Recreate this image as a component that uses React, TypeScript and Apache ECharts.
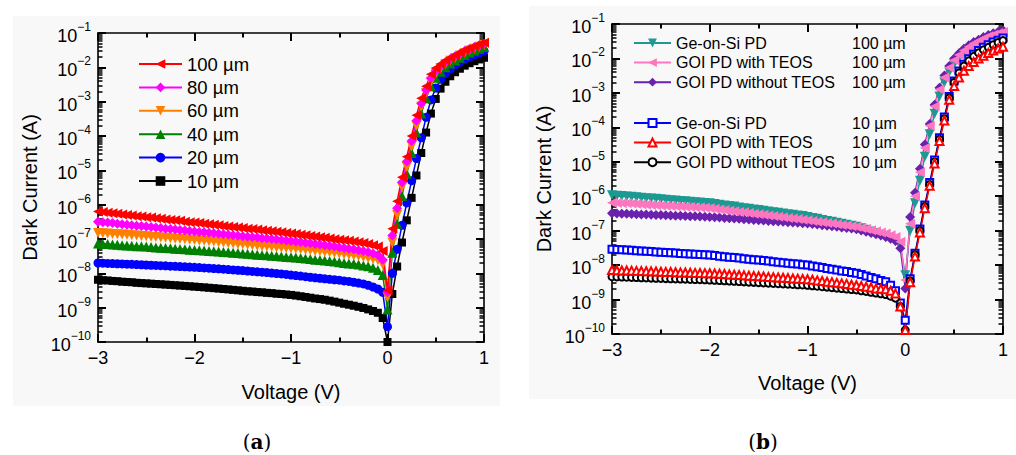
import React, { useEffect, useRef } from "react";
import * as echarts from "echarts";

const FONT = '"Liberation Sans", Arial, Helvetica, sans-serif';

// Voltage sweep (V)
const voltage = [
  -3, -2.95, -2.9, -2.85, -2.8, -2.75, -2.7, -2.65, -2.6, -2.55, -2.5, -2.45, -2.4, -2.35, -2.3, -2.25, -2.2, -2.15, -2.1, -2.05,
  -2, -1.95, -1.9, -1.85, -1.8, -1.75, -1.7, -1.65, -1.6, -1.55, -1.5, -1.45, -1.4, -1.35, -1.3, -1.25, -1.2, -1.15, -1.1, -1.05,
  -1, -0.95, -0.9, -0.85, -0.8, -0.75, -0.7, -0.65, -0.6, -0.55, -0.5, -0.45, -0.4, -0.35, -0.3, -0.25, -0.2, -0.15, -0.1, -0.05,
  0, 0.05, 0.1, 0.15, 0.2, 0.25, 0.3, 0.35, 0.4, 0.45, 0.5, 0.55, 0.6, 0.65, 0.7, 0.75, 0.8, 0.85, 0.9, 0.95, 1,
];

// Panel (a): dark current (A) for different diameters
const a100um = [
  6.3e-7, 6.1e-7, 5.8e-7, 5.6e-7, 5.4e-7, 5.2e-7, 5.0e-7, 4.8e-7, 4.6e-7, 4.5e-7, 4.3e-7, 4.2e-7, 4.0e-7, 3.9e-7, 3.7e-7, 3.6e-7, 3.5e-7, 3.4e-7, 3.2e-7, 3.1e-7, 3.0e-7,
  2.9e-7, 2.8e-7, 2.7e-7, 2.6e-7, 2.5e-7, 2.4e-7, 2.3e-7, 2.25e-7, 2.15e-7, 2.1e-7, 2.0e-7, 1.95e-7, 1.88e-7, 1.8e-7, 1.74e-7, 1.68e-7, 1.62e-7, 1.56e-7, 1.5e-7, 1.45e-7,
  1.39e-7, 1.33e-7, 1.28e-7, 1.23e-7, 1.18e-7, 1.13e-7, 1.08e-7, 1.04e-7, 9.9e-8, 9.5e-8,
  9.2e-8, 8.9e-8, 8.5e-8, 8.1e-8, 7.6e-8, 7.1e-8,
  6.6e-8, 6.0e-8, 4.5e-8, 3.2e-9,
  2.0e-7, 1.26e-6, 6.3e-6, 2.5e-5, 1.0e-4, 4.0e-4, 1.26e-3, 2.8e-3, 6.3e-3, 9.5e-3, 1.26e-2, 1.58e-2, 1.9e-2, 2.3e-2, 2.7e-2, 3.2e-2, 3.6e-2, 4.2e-2, 4.7e-2, 5.2e-2,
];
const a80um = [
  3.2e-7, 3.1e-7, 3.0e-7, 2.9e-7, 2.8e-7, 2.7e-7, 2.6e-7, 2.5e-7, 2.45e-7, 2.4e-7, 2.3e-7, 2.25e-7, 2.15e-7, 2.1e-7, 2.0e-7, 1.95e-7, 1.9e-7, 1.84e-7, 1.78e-7, 1.72e-7, 1.66e-7,
  1.61e-7, 1.56e-7, 1.51e-7, 1.46e-7, 1.42e-7, 1.37e-7, 1.33e-7, 1.29e-7, 1.25e-7, 1.21e-7, 1.17e-7, 1.13e-7, 1.1e-7, 1.06e-7, 1.03e-7, 1.0e-7, 9.7e-8, 9.4e-8, 9.1e-8, 8.8e-8,
  8.5e-8, 8.2e-8, 7.8e-8, 7.5e-8, 7.2e-8, 6.9e-8, 6.6e-8, 6.3e-8, 6.0e-8, 5.7e-8,
  5.5e-8, 5.2e-8, 5.0e-8, 4.7e-8, 4.5e-8, 4.2e-8,
  3.8e-8, 3.4e-8, 2.5e-8, 2.8e-9,
  1.26e-7, 7.9e-7, 4.5e-6, 1.8e-5, 7.1e-5, 2.8e-4, 8.9e-4, 2.2e-3, 4.8e-3, 7.9e-3, 1.1e-2, 1.4e-2, 1.74e-2, 2.1e-2, 2.5e-2, 3.0e-2, 3.4e-2, 3.9e-2, 4.4e-2, 4.9e-2,
];
const a60um = [
  1.5e-7, 1.47e-7, 1.44e-7, 1.41e-7, 1.38e-7, 1.35e-7, 1.32e-7, 1.29e-7, 1.26e-7, 1.23e-7, 1.2e-7, 1.17e-7, 1.14e-7, 1.11e-7, 1.08e-7, 1.05e-7, 1.02e-7, 1.0e-7, 9.8e-8, 9.5e-8, 9.3e-8,
  9.1e-8, 8.9e-8, 8.6e-8, 8.4e-8, 8.1e-8, 7.9e-8, 7.6e-8, 7.4e-8, 7.2e-8, 7.0e-8, 6.8e-8, 6.6e-8, 6.4e-8, 6.2e-8, 6.0e-8, 5.9e-8, 5.7e-8, 5.6e-8, 5.5e-8, 5.4e-8,
  5.2e-8, 5.0e-8, 4.9e-8, 4.7e-8, 4.5e-8, 4.4e-8, 4.2e-8, 4.1e-8, 3.9e-8, 3.8e-8,
  3.6e-8, 3.5e-8, 3.3e-8, 3.2e-8, 3.0e-8, 2.8e-8,
  2.6e-8, 2.4e-8, 1.8e-8, 2.0e-9,
  7.9e-8, 5.0e-7, 3.2e-6, 1.26e-5, 5.0e-5, 2.0e-4, 7.1e-4, 1.8e-3, 3.8e-3, 6.6e-3, 9.3e-3, 1.23e-2, 1.55e-2, 1.86e-2, 2.2e-2, 2.6e-2, 3.1e-2, 3.5e-2, 4.0e-2, 4.5e-2,
];
const a40um = [
  7.4e-8, 7.2e-8, 7.1e-8, 6.9e-8, 6.8e-8, 6.6e-8, 6.5e-8, 6.4e-8, 6.2e-8, 6.1e-8, 6.0e-8, 5.8e-8, 5.7e-8, 5.6e-8, 5.5e-8, 5.4e-8, 5.2e-8, 5.1e-8, 5.0e-8, 4.9e-8, 4.8e-8,
  4.7e-8, 4.6e-8, 4.5e-8, 4.4e-8, 4.3e-8, 4.2e-8, 4.1e-8, 4.0e-8, 3.9e-8, 3.8e-8, 3.7e-8, 3.6e-8, 3.5e-8, 3.4e-8, 3.35e-8, 3.25e-8, 3.2e-8, 3.1e-8, 3.0e-8, 2.95e-8,
  2.9e-8, 2.8e-8, 2.7e-8, 2.6e-8, 2.5e-8, 2.45e-8, 2.35e-8, 2.3e-8, 2.2e-8, 2.1e-8,
  2.0e-8, 1.95e-8, 1.9e-8, 1.8e-8, 1.7e-8, 1.6e-8,
  1.45e-8, 1.26e-8, 8.9e-9, 8.9e-10,
  4.0e-8, 2.8e-7, 1.8e-6, 7.9e-6, 3.2e-5, 1.26e-4, 4.5e-4, 1.26e-3, 2.8e-3, 5.0e-3, 7.4e-3, 1.0e-2, 1.29e-2, 1.58e-2, 1.9e-2, 2.3e-2, 2.7e-2, 3.1e-2, 3.5e-2, 3.9e-2,
];
const a20um = [
  2.0e-8, 1.98e-8, 1.95e-8, 1.93e-8, 1.9e-8, 1.88e-8, 1.85e-8, 1.83e-8, 1.8e-8, 1.78e-8, 1.75e-8, 1.72e-8, 1.7e-8, 1.67e-8, 1.65e-8, 1.62e-8, 1.6e-8, 1.57e-8, 1.55e-8, 1.52e-8, 1.5e-8,
  1.47e-8, 1.44e-8, 1.41e-8, 1.38e-8, 1.35e-8, 1.32e-8, 1.29e-8, 1.26e-8, 1.23e-8, 1.2e-8, 1.17e-8, 1.14e-8, 1.11e-8, 1.08e-8, 1.05e-8, 1.02e-8, 9.9e-9, 9.6e-9, 9.3e-9, 8.9e-9,
  8.6e-9, 8.3e-9, 8.0e-9, 7.7e-9, 7.4e-9, 7.2e-9, 6.9e-9, 6.7e-9, 6.5e-9, 6.3e-9,
  6.0e-9, 5.8e-9, 5.5e-9, 5.2e-9, 4.9e-9, 4.5e-9,
  4.0e-9, 3.5e-9, 2.8e-9, 2.8e-10,
  1.0e-8, 5.0e-8, 2.5e-7, 1.12e-6, 5.0e-6, 2.2e-5, 8.9e-5, 3.5e-4, 1.12e-3, 2.5e-3, 4.5e-3, 6.6e-3, 8.9e-3, 1.15e-2, 1.41e-2, 1.7e-2, 2.0e-2, 2.3e-2, 2.6e-2, 3.0e-2,
];
const a10um = [
  6.5e-9, 6.3e-9, 6.2e-9, 6.0e-9, 5.9e-9, 5.7e-9, 5.6e-9, 5.5e-9, 5.3e-9, 5.2e-9, 5.1e-9, 5.0e-9, 4.9e-9, 4.8e-9, 4.7e-9, 4.6e-9, 4.5e-9, 4.4e-9, 4.3e-9, 4.2e-9, 4.1e-9,
  4.0e-9, 3.9e-9, 3.8e-9, 3.7e-9, 3.6e-9, 3.5e-9, 3.4e-9, 3.3e-9, 3.2e-9, 3.1e-9, 3.0e-9, 2.95e-9, 2.85e-9, 2.8e-9, 2.7e-9, 2.65e-9, 2.55e-9, 2.5e-9, 2.42e-9, 2.35e-9,
  2.25e-9, 2.15e-9, 2.05e-9, 1.95e-9, 1.85e-9, 1.78e-9, 1.7e-9, 1.6e-9, 1.5e-9, 1.4e-9,
  1.3e-9, 1.22e-9, 1.14e-9, 1.06e-9, 9.8e-10, 8.9e-10,
  8.0e-10, 7.1e-10, 5.0e-10, 1.0e-10,
  2.5e-9, 1.58e-8, 7.9e-8, 3.5e-7, 1.58e-6, 7.1e-6, 3.2e-5, 1.26e-4, 4.5e-4, 1.2e-3, 2.4e-3, 3.8e-3, 5.5e-3, 7.2e-3, 9.1e-3, 1.12e-2, 1.32e-2, 1.51e-2, 1.7e-2, 1.9e-2,
];

// Panel (b): dark current (A) of the three device types
const bGeOnSi100 = [
  1.07e-6, 1.04e-6, 1.01e-6, 9.8e-7, 9.6e-7, 9.3e-7, 9.1e-7, 8.8e-7, 8.6e-7, 8.4e-7, 8.1e-7, 7.9e-7, 7.7e-7, 7.5e-7, 7.3e-7, 7.1e-7, 6.9e-7, 6.7e-7, 6.6e-7, 6.4e-7, 6.2e-7,
  5.9e-7, 5.7e-7, 5.4e-7, 5.2e-7, 5.0e-7, 4.7e-7, 4.5e-7, 4.3e-7, 4.1e-7, 4.0e-7, 3.8e-7, 3.6e-7, 3.45e-7, 3.3e-7, 3.15e-7, 3.0e-7, 2.9e-7, 2.75e-7, 2.65e-7, 2.5e-7,
  2.35e-7, 2.2e-7, 2.05e-7, 1.92e-7, 1.8e-7, 1.69e-7, 1.58e-7, 1.48e-7, 1.38e-7, 1.29e-7,
  1.18e-7, 1.06e-7, 9.5e-8, 8.5e-8, 7.6e-8, 6.6e-8,
  5.8e-8, 5.0e-8, 3.8e-8, 5.1e-9,
  1.0e-7, 6.3e-7, 2.8e-6, 1.41e-5, 6.3e-5, 2.5e-4, 7.9e-4, 2.0e-3, 4.0e-3, 6.8e-3, 1.0e-2, 1.38e-2, 1.78e-2, 2.2e-2, 2.7e-2, 3.2e-2, 3.6e-2, 4.1e-2, 4.5e-2, 4.9e-2,
];
const bTeos100 = [
  6.5e-7, 6.4e-7, 6.3e-7, 6.2e-7, 6.1e-7, 5.9e-7, 5.8e-7, 5.7e-7, 5.6e-7, 5.5e-7, 5.4e-7, 5.3e-7, 5.2e-7, 5.1e-7, 5.0e-7, 4.95e-7, 4.85e-7, 4.75e-7, 4.7e-7, 4.6e-7, 4.5e-7,
  4.3e-7, 4.15e-7, 4.0e-7, 3.8e-7, 3.65e-7, 3.5e-7, 3.4e-7, 3.25e-7, 3.1e-7, 3.0e-7, 2.9e-7, 2.75e-7, 2.65e-7, 2.55e-7, 2.45e-7, 2.35e-7, 2.25e-7, 2.17e-7, 2.08e-7, 2.0e-7,
  1.91e-7, 1.83e-7, 1.75e-7, 1.68e-7, 1.61e-7, 1.54e-7, 1.47e-7, 1.41e-7, 1.35e-7, 1.29e-7,
  1.2e-7, 1.11e-7, 1.03e-7, 9.6e-8, 8.9e-8, 8.3e-8,
  7.4e-8, 6.6e-8, 4.8e-8, 3.7e-9,
  1.6e-7, 1.0e-6, 5.0e-6, 2.5e-5, 1.12e-4, 4.0e-4, 1.26e-3, 2.8e-3, 5.4e-3, 8.9e-3, 1.26e-2, 1.7e-2, 2.2e-2, 2.7e-2, 3.2e-2, 3.8e-2, 4.4e-2, 4.9e-2, 5.4e-2, 5.9e-2,
];
const bNoTeos100 = [
  3.2e-7, 3.16e-7, 3.12e-7, 3.08e-7, 3.05e-7, 3.01e-7, 2.97e-7, 2.94e-7, 2.9e-7, 2.86e-7, 2.83e-7, 2.8e-7, 2.76e-7, 2.73e-7, 2.69e-7, 2.66e-7, 2.63e-7, 2.6e-7, 2.56e-7, 2.53e-7, 2.5e-7,
  2.45e-7, 2.4e-7, 2.35e-7, 2.3e-7, 2.25e-7, 2.2e-7, 2.15e-7, 2.1e-7, 2.05e-7, 2.0e-7, 1.96e-7, 1.92e-7, 1.88e-7, 1.84e-7, 1.8e-7, 1.76e-7, 1.72e-7, 1.69e-7, 1.65e-7, 1.62e-7,
  1.56e-7, 1.5e-7, 1.44e-7, 1.39e-7, 1.34e-7, 1.29e-7, 1.24e-7, 1.19e-7, 1.15e-7, 1.1e-7,
  1.01e-7, 9.3e-8, 8.6e-8, 7.9e-8, 7.2e-8, 6.6e-8,
  5.8e-8, 5.0e-8, 3.1e-8, 2.1e-9,
  2.5e-7, 1.26e-6, 6.3e-6, 3.2e-5, 1.26e-4, 4.5e-4, 1.41e-3, 3.2e-3, 6.0e-3, 1.0e-2, 1.41e-2, 1.9e-2, 2.4e-2, 3.0e-2, 3.5e-2, 4.2e-2, 4.8e-2, 5.4e-2, 6.0e-2, 6.6e-2,
];
const bGeOnSi10 = [
  2.9e-8, 2.84e-8, 2.79e-8, 2.73e-8, 2.68e-8, 2.63e-8, 2.57e-8, 2.52e-8, 2.47e-8, 2.42e-8, 2.38e-8, 2.33e-8, 2.28e-8, 2.24e-8, 2.19e-8, 2.15e-8, 2.11e-8, 2.07e-8, 2.03e-8, 1.99e-8, 1.95e-8,
  1.89e-8, 1.82e-8, 1.76e-8, 1.7e-8, 1.65e-8, 1.6e-8, 1.54e-8, 1.49e-8, 1.44e-8, 1.4e-8, 1.35e-8, 1.31e-8, 1.26e-8, 1.22e-8, 1.18e-8, 1.14e-8, 1.1e-8, 1.07e-8, 1.03e-8, 1.0e-8,
  9.5e-9, 9.0e-9, 8.5e-9, 8.0e-9, 7.6e-9, 7.2e-9, 6.8e-9, 6.5e-9, 6.1e-9, 5.8e-9,
  5.3e-9, 4.8e-9, 4.4e-9, 4.0e-9, 3.6e-9, 3.3e-9,
  2.6e-9, 1.8e-9, 8.0e-10, 2.5e-10,
  4.0e-9, 2.2e-8, 1.12e-7, 5.6e-7, 2.5e-6, 1.12e-5, 5.0e-5, 2.0e-4, 7.9e-4, 2.2e-3, 4.3e-3, 6.8e-3, 9.8e-3, 1.32e-2, 1.7e-2, 2.1e-2, 2.5e-2, 3.0e-2, 3.4e-2, 3.9e-2,
];
const bTeos10 = [
  7.2e-9, 7.1e-9, 7.0e-9, 6.95e-9, 6.9e-9, 6.8e-9, 6.7e-9, 6.65e-9, 6.6e-9, 6.5e-9, 6.4e-9, 6.35e-9, 6.3e-9, 6.2e-9, 6.15e-9, 6.1e-9, 6.0e-9, 5.95e-9, 5.9e-9, 5.85e-9, 5.8e-9,
  5.7e-9, 5.6e-9, 5.5e-9, 5.35e-9, 5.25e-9, 5.15e-9, 5.05e-9, 4.95e-9, 4.85e-9, 4.75e-9, 4.65e-9, 4.55e-9, 4.45e-9, 4.4e-9, 4.3e-9, 4.2e-9, 4.1e-9, 4.05e-9, 3.95e-9, 3.9e-9,
  3.75e-9, 3.6e-9, 3.45e-9, 3.3e-9, 3.2e-9, 3.05e-9, 2.95e-9, 2.85e-9, 2.7e-9, 2.6e-9,
  2.47e-9, 2.35e-9, 2.23e-9, 2.11e-9, 2.05e-9, 2.0e-9,
  1.8e-9, 1.5e-9, 6.3e-10, 1.3e-10,
  3.2e-9, 1.78e-8, 8.9e-8, 4.5e-7, 2.0e-6, 8.9e-6, 4.0e-5, 1.58e-4, 6.3e-4, 1.58e-3, 2.8e-3, 4.4e-3, 6.0e-3, 7.9e-3, 1.0e-2, 1.2e-2, 1.45e-2, 1.7e-2, 1.95e-2, 2.2e-2,
];
const bNoTeos10 = [
  4.6e-9, 4.55e-9, 4.5e-9, 4.45e-9, 4.4e-9, 4.35e-9, 4.3e-9, 4.25e-9, 4.2e-9, 4.15e-9, 4.1e-9, 4.06e-9, 4.02e-9, 3.98e-9, 3.94e-9, 3.9e-9, 3.86e-9, 3.82e-9, 3.78e-9, 3.74e-9, 3.7e-9,
  3.64e-9, 3.57e-9, 3.51e-9, 3.45e-9, 3.39e-9, 3.33e-9, 3.27e-9, 3.21e-9, 3.16e-9, 3.1e-9, 3.05e-9, 3.0e-9, 2.94e-9, 2.89e-9, 2.84e-9, 2.79e-9, 2.74e-9, 2.69e-9, 2.65e-9, 2.6e-9,
  2.52e-9, 2.44e-9, 2.36e-9, 2.29e-9, 2.22e-9, 2.15e-9, 2.09e-9, 2.02e-9, 1.96e-9, 1.9e-9,
  1.8e-9, 1.72e-9, 1.63e-9, 1.55e-9, 1.47e-9, 1.4e-9,
  1.25e-9, 1.1e-9, 6.3e-10, 1.3e-10,
  3.5e-9, 2.0e-8, 1.0e-7, 5.0e-7, 2.2e-6, 1.0e-5, 4.5e-5, 1.78e-4, 7.1e-4, 2.0e-3, 3.8e-3, 6.0e-3, 8.5e-3, 1.15e-2, 1.45e-2, 1.78e-2, 2.1e-2, 2.5e-2, 2.9e-2, 3.3e-2,
];

// Axis ticks
const xTicks = [-3, -2, -1, 0, 1];
const yMajorTicks = [1e-10, 1e-9, 1e-8, 1e-7, 1e-6, 1e-5, 1e-4, 1e-3, 1e-2, 1e-1];
const yMinorMultipliers = [2, 3, 4, 5, 6, 7, 8, 9];
const yMinorTicks: number[] = [];
yMajorTicks.slice(0, -1).forEach((d) => yMinorMultipliers.forEach((m) => yMinorTicks.push(m * d)));

const legendA = ["100 µm", "80 µm", "60 µm", "40 µm", "20 µm", "10 µm"];
const legendB1 = ["Ge-on-Si PD, 100 µm", "GOI PD with TEOS, 100 µm", "GOI PD without TEOS, 100 µm"];
const legendB2 = ["Ge-on-Si PD, 10 µm", "GOI PD with TEOS, 10 µm", "GOI PD without TEOS, 10 µm"];

const BLACK = "#000000";
const MAJOR_LEN = 8;
const MINOR_LEN = 4.5;

const minus = (s: string) => s.replace("-", "\u2212");

function xAxis(grid: number, position: "bottom" | "top", main: boolean, nameGap: number) {
  return {
    gridIndex: grid,
    type: "value",
    position,
    min: xTicks[0],
    max: xTicks[xTicks.length - 1],
    interval: 1,
    axisLine: { show: true, onZero: false, lineStyle: { color: BLACK, width: 1.6 } },
    axisTick: { show: true, inside: true, length: MAJOR_LEN, lineStyle: { color: BLACK, width: 2 } },
    minorTick: { show: true, splitNumber: 2, length: MINOR_LEN, lineStyle: { color: BLACK, width: 2 } },
    splitLine: { show: false },
    axisLabel: {
      show: main,
      color: BLACK,
      fontSize: 18,
      fontFamily: FONT,
      margin: 7,
      formatter: (v: number) => minus(String(v)),
    },
    name: main ? "Voltage (V)" : "",
    nameLocation: "middle",
    nameGap,
    nameTextStyle: { color: BLACK, fontSize: 20, fontFamily: FONT },
  };
}

function yAxis(grid: number, position: "left" | "right", kind: "major" | "minor", labels: boolean) {
  const isMajor = kind === "major";
  return {
    gridIndex: grid,
    type: "log",
    position,
    min: yMajorTicks[0],
    max: yMajorTicks[yMajorTicks.length - 1],
    splitNumber: 9,
    axisLine: { show: isMajor, onZero: false, lineStyle: { color: BLACK, width: 1.6 } },
    axisTick: {
      show: true,
      inside: true,
      length: isMajor ? MAJOR_LEN : MINOR_LEN,
      lineStyle: { color: BLACK, width: isMajor ? 2 : 1.5 },
      customValues: isMajor ? yMajorTicks : yMinorTicks,
    },
    splitLine: { show: false },
    axisLabel: labels
      ? {
          show: true,
          customValues: yMajorTicks,
          margin: 7,
          color: BLACK,
          fontFamily: FONT,
          formatter: (v: number) => `{b|10}{s|${minus(String(Math.round(Math.log10(v))))}}`,
          rich: {
            b: { fontSize: 18, fontFamily: FONT, color: BLACK, verticalAlign: "bottom", lineHeight: 24 },
            s: { fontSize: 12, fontFamily: FONT, color: BLACK, verticalAlign: "top" },
          },
        }
      : { show: false },
    name: labels ? "Dark Current (A)" : "",
    nameLocation: "middle",
    nameGap: 58,
    nameTextStyle: { color: BLACK, fontSize: 20, fontFamily: FONT },
  };
}

function line(
  name: string,
  data: number[],
  color: string,
  symbol: string,
  rotate: number,
  size: number,
  grid: number,
  empty = false,
) {
  return {
    type: "line",
    name,
    xAxisIndex: grid * 2,
    yAxisIndex: grid * 4,
    data: voltage.map((v, i) => [v, data[i]]),
    symbol,
    symbolRotate: rotate,
    symbolSize: size,
    showSymbol: true,
    showAllSymbol: true,
    lineStyle: { color, width: 1.5 },
    itemStyle: empty ? { color, borderColor: color, borderWidth: 1.5 } : { color, borderWidth: 0 },
    emphasis: { disabled: true },
    clip: true,
  };
}

const TEAL = "#1c9a92";
const PINK = "#ff76c0";
const PURPLE = "#6a22ae";

export default function App() {
  const ref = useRef<HTMLDivElement>(null);

  useEffect(() => {
    if (!ref.current) return;
    const chart = echarts.init(ref.current, undefined, { renderer: "svg" });

    const legendRichB = {
      n: { width: 176, fontSize: 16, fontFamily: FONT, color: BLACK },
      d: { fontSize: 16, fontFamily: FONT, color: BLACK },
    };
    const legendFmtB = (name: string) => {
      const [a, b] = name.split(", ");
      return `{n|${a}}{d|${b}}`;
    };
    const serif = '"DejaVu Serif", "Liberation Serif", serif';

    const option = {
      animation: false,
      textStyle: { fontFamily: FONT },
      graphic: [
        { type: "rect", z: -10, silent: true, shape: { x: 13, y: 16, width: 487, height: 390 }, style: { fill: "#f8f8f8" } },
        { type: "rect", z: -10, silent: true, shape: { x: 529, y: 6, width: 487, height: 393 }, style: { fill: "#f8f8f8" } },
        {
          type: "text",
          x: 257,
          y: 442,
          style: {
            text: "{p|(}{l|a}{p|)}",
            align: "center",
            verticalAlign: "middle",
            rich: {
              p: { fontSize: 20, fontFamily: serif, fill: BLACK },
              l: { fontSize: 20, fontWeight: "bold", fontFamily: serif, fill: BLACK },
            },
          },
        },
        {
          type: "text",
          x: 763,
          y: 442,
          style: {
            text: "{p|(}{l|b}{p|)}",
            align: "center",
            verticalAlign: "middle",
            rich: {
              p: { fontSize: 20, fontFamily: serif, fill: BLACK },
              l: { fontSize: 20, fontWeight: "bold", fontFamily: serif, fill: BLACK },
            },
          },
        },
      ],
      grid: [
        { left: 98, top: 33, width: 386, height: 309, outerBoundsMode: "none", containLabel: false },
        { left: 612, top: 24, width: 391, height: 310, outerBoundsMode: "none", containLabel: false },
      ],
      xAxis: [
        xAxis(0, "bottom", true, 40),
        xAxis(0, "top", false, 0),
        xAxis(1, "bottom", true, 39),
        xAxis(1, "top", false, 0),
      ],
      yAxis: [
        yAxis(0, "left", "major", true),
        yAxis(0, "right", "major", false),
        yAxis(0, "left", "minor", false),
        yAxis(0, "right", "minor", false),
        yAxis(1, "left", "major", true),
        yAxis(1, "right", "major", false),
        yAxis(1, "left", "minor", false),
        yAxis(1, "right", "minor", false),
      ],
      legend: [
        {
          data: legendA,
          orient: "vertical",
          left: 138,
          top: 54,
          padding: 0,
          itemWidth: 43,
          itemHeight: 12,
          itemGap: 3.4,
          selectedMode: false,
          textStyle: { fontSize: 18.5, lineHeight: 20, color: BLACK, fontFamily: FONT },
        },
        {
          data: legendB1,
          orient: "vertical",
          left: 633,
          top: 34.5,
          padding: 0,
          itemWidth: 37,
          itemHeight: 11,
          itemGap: 2.6,
          selectedMode: false,
          formatter: legendFmtB,
          textStyle: { fontSize: 16, lineHeight: 17, color: BLACK, fontFamily: FONT, rich: legendRichB },
        },
        {
          data: legendB2,
          orient: "vertical",
          left: 633,
          top: 114.5,
          padding: 0,
          itemWidth: 37,
          itemHeight: 10,
          itemGap: 2.6,
          selectedMode: false,
          formatter: legendFmtB,
          textStyle: { fontSize: 16, lineHeight: 17, color: BLACK, fontFamily: FONT, rich: legendRichB },
        },
      ],
      series: [
        line("10 µm", a10um, "#000000", "rect", 0, 8, 0),
        line("20 µm", a20um, "#0000ff", "circle", 0, 9, 0),
        line("40 µm", a40um, "#008000", "triangle", 0, 10, 0),
        line("60 µm", a60um, "#ff8000", "triangle", 180, 10, 0),
        line("80 µm", a80um, "#ff00ff", "diamond", 0, 10, 0),
        line("100 µm", a100um, "#ff0000", "triangle", 90, 10, 0),
        line(legendB1[0], bGeOnSi100, TEAL, "triangle", 180, 10, 1),
        line(legendB1[2], bNoTeos100, PURPLE, "diamond", 0, 10, 1),
        line(legendB1[1], bTeos100, PINK, "triangle", 90, 10, 1),
        line(legendB2[0], bGeOnSi10, "#0000ff", "emptyRect", 0, 7, 1, true),
        line(legendB2[2], bNoTeos10, "#000000", "emptyCircle", 0, 7, 1, true),
        line(legendB2[1], bTeos10, "#ff0000", "emptyTriangle", 0, 8, 1, true),
      ],
    };

    chart.setOption(option as any);
    return () => chart.dispose();
  }, []);

  return (
    <div
      ref={ref}
      style={{ position: "absolute", left: 0, top: 0, width: 1016, height: 455, background: "#ffffff" }}
    />
  );
}
